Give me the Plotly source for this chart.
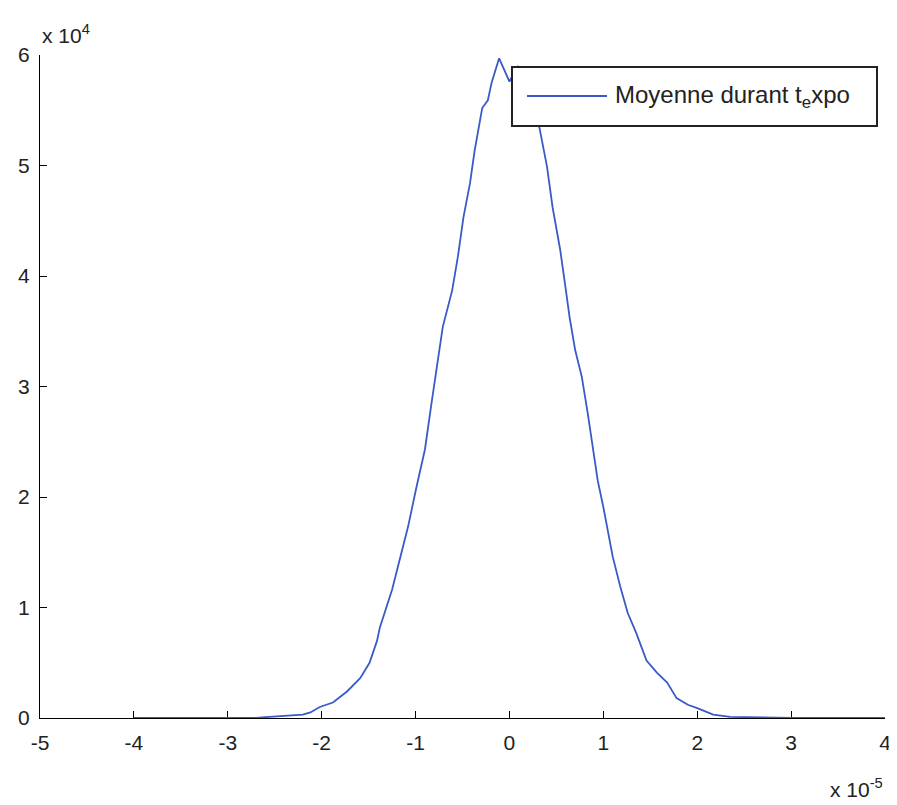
import plotly.graph_objects as go

# x in units of 1e-5, y in units of 1e4
x_vals = [-4.0, -3.5, -3.0, -2.9, -2.8, -2.7, -2.6, -2.5, -2.4, -2.3, -2.2, -2.12, -2.02,
          -1.88, -1.73, -1.59, -1.49, -1.41, -1.38, -1.25, -1.17, -1.08, -0.99, -0.90,
          -0.83, -0.77, -0.71, -0.61, -0.55, -0.49, -0.42, -0.37, -0.31, -0.29, -0.23,
          -0.19, -0.11, 0.0, 0.09, 0.2, 0.32, 0.40, 0.46, 0.54, 0.59, 0.64, 0.70, 0.77,
          0.83, 0.89, 0.94, 1.0, 1.05, 1.10, 1.18, 1.26, 1.35, 1.46, 1.57, 1.68, 1.78,
          1.90, 2.0, 2.17, 2.35, 2.6, 2.9, 3.0, 3.5, 4.0]
y_vals = [0, 0, 0, 0.004, 0.006, 0.002, 0.008, 0.015, 0.022, 0.025, 0.03, 0.05, 0.10,
          0.14, 0.24, 0.36, 0.50, 0.70, 0.82, 1.16, 1.43, 1.73, 2.09, 2.43,
          2.85, 3.18, 3.54, 3.87, 4.17, 4.53, 4.84, 5.14, 5.44, 5.52, 5.59,
          5.75, 5.97, 5.76, 5.90, 5.65, 5.34, 4.99, 4.62, 4.24, 3.94, 3.63, 3.33, 3.09,
          2.78, 2.45, 2.15, 1.91, 1.67, 1.46, 1.19, 0.95, 0.77, 0.52, 0.41, 0.32, 0.18,
          0.12, 0.09, 0.03, 0.01, 0.005, 0.003, 0, 0, 0]

x_ticks = [-5, -4, -3, -2, -1, 0, 1, 2, 3, 4]
y_ticks = [0, 1, 2, 3, 4, 5, 6]
legend_label = "Moyenne durant t<sub>e</sub>xpo"

FONT = "Liberation Sans, Arial, sans-serif"
LINE_COLOR = "#3a5ac8"

fig = go.Figure()
fig.add_trace(go.Scatter(x=x_vals, y=y_vals, mode="lines",
                         line=dict(color=LINE_COLOR, width=1.8),
                         name="Moyenne durant t_expo", showlegend=False))

axis_common = dict(showline=True, linecolor="black", linewidth=1.4, ticks="inside",
                   tickcolor="black", ticklen=7, tickwidth=1.4, showgrid=False,
                   zeroline=False, mirror=False, layer="below traces", automargin=False,
                   tickfont=dict(family=FONT, size=21, color="#222"))

fig.update_layout(
    width=897, height=805,
    margin=dict(l=32, r=20, t=47, b=95),
    paper_bgcolor="white", plot_bgcolor="white",
    xaxis=dict(range=[-5, 4], tickvals=x_ticks, ticktext=[str(v) for v in x_ticks],
               ticklabelstandoff=6, **axis_common),
    yaxis=dict(range=[0, 6], tickvals=y_ticks, ticktext=[str(v) for v in y_ticks],
               ticklabelstandoff=5, **axis_common),
    showlegend=False,
)

# legend drawn manually to match MATLAB style
lx0, lx1 = (512 - 40) / 845, (877 - 40) / 845
ly0, ly1 = (718 - 126) / 663, (718 - 67) / 663
ly = (718 - 96) / 663
fig.add_shape(type="rect", xref="paper", yref="paper", x0=lx0, x1=lx1, y0=ly0, y1=ly1,
              line=dict(color="#222", width=2), fillcolor="white", layer="above")
fig.add_shape(type="line", xref="paper", yref="paper", x0=(527 - 40) / 845, x1=(607 - 40) / 845,
              y0=ly, y1=ly, line=dict(color=LINE_COLOR, width=1.8), layer="above")
fig.add_annotation(xref="paper", yref="paper", x=(613 - 40) / 845, y=ly, xanchor="left",
                   yanchor="middle", text=legend_label, showarrow=False,
                   font=dict(family=FONT, size=24, color="#222"))

# exponent labels
fig.add_annotation(xref="paper", yref="paper", x=0, y=1, xanchor="left", yanchor="bottom",
                   yshift=6, text="x 10<sup>4</sup>", showarrow=False,
                   font=dict(family=FONT, size=21, color="#222"))
fig.add_annotation(xref="paper", yref="paper", x=1, y=0, xanchor="right", yanchor="top",
                   xshift=0, yshift=-55, text="x 10<sup>-5</sup>", showarrow=False,
                   font=dict(family=FONT, size=21, color="#222"))

fig.write_html("out.html")
